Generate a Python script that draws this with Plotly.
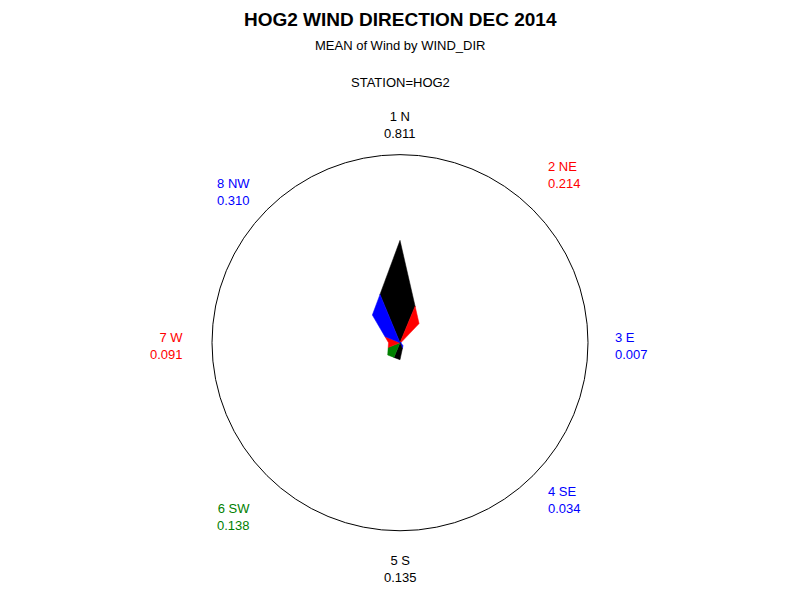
import math
import plotly.graph_objects as go

# ---- data ----
directions = ["1 N", "2 NE", "3 E", "4 SE", "5 S", "6 SW", "7 W", "8 NW"]
angles_deg = [0, 45, 90, 135, 180, 225, 270, 315]
mean_wind = [0.811, 0.214, 0.007, 0.034, 0.135, 0.138, 0.091, 0.310]

# ---- style ----
slice_colors = ["#000000", "#FF0000", "#0000FF", "#0000FF",
                "#000000", "#008000", "#FF0000", "#0000FF"]
W, H = 800, 600
PAGE_OFF = 8                       # browser body margin
CX, CY, RPX = 400 - PAGE_OFF, 342.7 - PAGE_OFF, 188
RMAX = 1.49
LABEL_R = 220
label_nudge = [(0, 2), (-10, -12), (-7, 3), (-10, 2), (0, 6), (8, 19), (5, 3), (8, 5)]
FONT = "Liberation Sans, Arial, sans-serif"

n = len(mean_wind)
half = 360 / n / 2

def edge_radius(a, b):
    # intersection of the segment joining two adjacent tips with their bisector
    if a + b == 0:
        return 0.0
    return 2 * a * b * math.cos(math.radians(half)) / (a + b)

fig = go.Figure()
for i in range(n):
    v = mean_wind[i]
    vp = mean_wind[(i - 1) % n]
    vn = mean_wind[(i + 1) % n]
    th = angles_deg[i]
    r = [0, edge_radius(vp, v), v, edge_radius(v, vn), 0]
    t = [th, th - half, th, th + half, th]
    fig.add_trace(go.Scatterpolar(
        r=r, theta=t, mode="lines", fill="toself",
        fillcolor=slice_colors[i], line=dict(color=slice_colors[i], width=0.5),
        hoverinfo="skip", showlegend=False))

fig.update_layout(
    width=W, height=H,
    margin=dict(l=0, r=0, t=0, b=0),
    paper_bgcolor="white", plot_bgcolor="white",
    polar=dict(
        domain=dict(x=[(CX - RPX) / W, (CX + RPX) / W],
                    y=[(H - CY - RPX) / H, (H - CY + RPX) / H]),
        bgcolor="white",
        radialaxis=dict(range=[0, RMAX], visible=False, showgrid=False),
        angularaxis=dict(rotation=90, direction="clockwise", showgrid=False,
                         showticklabels=False, ticks="", showline=True,
                         linecolor="black", linewidth=1),
    ),
)

annotations = [
    dict(text="<b>HOG2 WIND DIRECTION DEC 2014</b>", x=0.5 - PAGE_OFF / W,
         y=1, yanchor="top", borderpad=0,
         font=dict(size=19, color="black", family=FONT)),
    dict(text="MEAN of Wind by WIND_DIR", x=0.5 - PAGE_OFF / W,
         y=1 - (45.5 - PAGE_OFF) / H,
         font=dict(size=13, color="black", family=FONT)),
    dict(text="STATION=HOG2", x=0.5 - PAGE_OFF / W,
         y=1 - (82.8 - PAGE_OFF) / H,
         font=dict(size=13, color="black", family=FONT)),
]
for i in range(n):
    a = math.radians(angles_deg[i])
    s = math.sin(a)
    px = CX + LABEL_R * s + label_nudge[i][0]
    py = CY - LABEL_R * math.cos(a) + label_nudge[i][1]
    xa = "left" if s > 0.1 else ("right" if s < -0.1 else "center")
    annotations.append(dict(
        text=f"{directions[i]}<br>{mean_wind[i]:.3f}",
        x=px / W, y=1 - py / H, xanchor=xa, yanchor="middle", align=xa,
        font=dict(size=13, color=slice_colors[i], family=FONT)))

for a in annotations:
    a.setdefault("xanchor", "center")
    a.setdefault("yanchor", "middle")
    a.update(xref="paper", yref="paper", showarrow=False)
fig.update_layout(annotations=annotations)

fig.write_html("out.html")
